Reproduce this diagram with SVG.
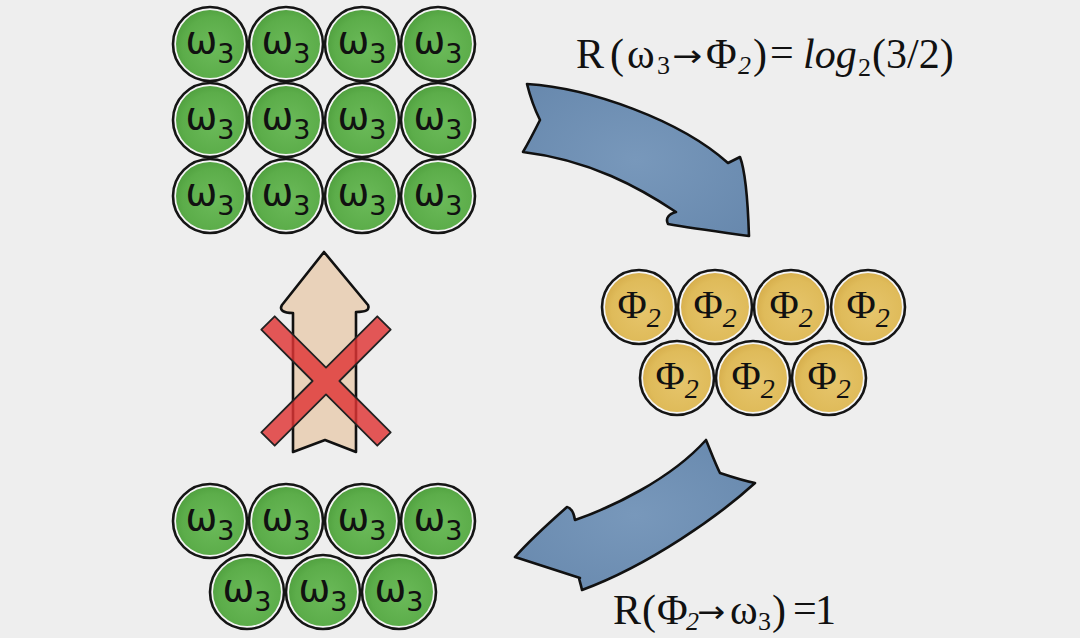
<svg xmlns="http://www.w3.org/2000/svg" width="1080" height="638" viewBox="0 0 1080 638">
<style>
.ring{fill:none;stroke:#151515;stroke-width:2.6}
.gap{fill:#f5f5f5}
.gf{fill:url(#gG)}
.yf{fill:url(#gY)}
.om{font-family:"DejaVu Sans","Liberation Sans",sans-serif;font-size:38px;fill:#111;text-anchor:middle}
.sub{font-size:27px}
.ph{font-family:"Liberation Serif","DejaVu Serif",serif;font-size:40px;fill:#111;text-anchor:middle}
.psub{font-size:28px;font-style:italic}
.f{font-family:"Liberation Serif","DejaVu Serif",serif;font-size:42px;fill:#111}
.fs{font-family:"Liberation Serif","DejaVu Serif",serif;font-size:26px;fill:#111}
.fa{font-family:"DejaVu Sans",sans-serif;font-size:30px;fill:#111}
.arr{stroke:#111;stroke-width:2.6;stroke-linejoin:round}
</style>
<defs>
<radialGradient id="gG" cx="0.55" cy="0.55" r="0.6">
<stop offset="0" stop-color="#6bba59"/><stop offset="0.75" stop-color="#5cad4a"/><stop offset="1" stop-color="#4f9f3e"/>
</radialGradient>
<radialGradient id="gY" cx="0.55" cy="0.55" r="0.6">
<stop offset="0" stop-color="#e6c56c"/><stop offset="0.75" stop-color="#dfbb5a"/><stop offset="1" stop-color="#d5ac4a"/>
</radialGradient>
<radialGradient id="gB" cx="0.5" cy="0.5" r="0.7">
<stop offset="0" stop-color="#7898bb"/><stop offset="1" stop-color="#6788ad"/>
</radialGradient>
<g id="w3"><circle r="36" class="gap"/><circle r="34" class="gf"/><circle r="37" class="ring"/><text class="om" x="0" y="9">ω<tspan class="sub" dy="10">3</tspan></text></g>
<g id="p2"><circle r="36" class="gap"/><circle r="34" class="yf"/><circle r="37" class="ring"/><text class="ph" x="0" y="11">Φ<tspan class="psub" dy="9">2</tspan></text></g>
</defs>
<rect width="1080" height="638" fill="#eeeeee"/>

<g id="connectors">
<path id="arrow-top" class="arr" fill="url(#gB)" d="M527,84 C590,88 680,120 728,163 L740,157 C745,170 748,205 749,236 C720,232 690,228 668,224 C665,218 669,214 676,212 C640,188 590,160 523,152 C530,140 536,128 540,120 C535,110 530,96 527,84 Z"/>
<path id="arrow-bottom" class="arr" fill="url(#gB)" d="M706,440 C711,452 715,463 720,473 C732,477 745,481 755,483 C720,515 650,565 582,590 C580,580 578,578 580,578 L515,557 C530,540 550,522 567,507 C572,508 574,514 575,520 C610,508 670,480 706,440 Z"/>
<g id="blocked">
<path id="arrow-up" class="arr" stroke-width="2" fill="#e9d2ba" d="M324,252 L368,305 C370,310 366,312 356,312 L356,452 L325,440 L293,452 L293,313 C283,313 279,310 282,305 Z"/>
<path id="cross" fill="#df3434" fill-opacity="0.82" stroke="#222" stroke-width="1.8" stroke-linejoin="round" d="M261.3,329.7 L274.7,316.3 L326,367.6 L377.3,316.3 L390.7,329.7 L339.4,381 L390.7,432.3 L377.3,445.7 L326,394.4 L274.7,445.7 L261.3,432.3 L312.6,381 Z"/>
</g>
</g>

<g id="top-grid">
<use id="t1" href="#w3" x="210" y="44"/><use id="t2" href="#w3" x="286" y="44"/><use id="t3" href="#w3" x="362" y="44"/><use id="t4" href="#w3" x="438" y="44"/>
<use id="t5" href="#w3" x="210" y="120"/><use id="t6" href="#w3" x="286" y="120"/><use id="t7" href="#w3" x="362" y="120"/><use id="t8" href="#w3" x="438" y="120"/>
<use id="t9" href="#w3" x="210" y="196"/><use id="t10" href="#w3" x="286" y="196"/><use id="t11" href="#w3" x="362" y="196"/><use id="t12" href="#w3" x="438" y="196"/>
</g>

<g id="phi-group">
<use id="p1" href="#p2" x="639" y="307"/><use id="p2n" href="#p2" x="715" y="307"/><use id="p3" href="#p2" x="791" y="307"/><use id="p4" href="#p2" x="868" y="307"/>
<use id="p5" href="#p2" x="677" y="378"/><use id="p6" href="#p2" x="753" y="378"/><use id="p7" href="#p2" x="829" y="378"/>
</g>

<g id="bottom-group">
<use id="b1" href="#w3" x="210" y="521"/><use id="b2" href="#w3" x="286" y="521"/><use id="b3" href="#w3" x="362" y="521"/><use id="b4" href="#w3" x="438" y="521"/>
<use id="b5" href="#w3" x="247" y="592"/><use id="b6" href="#w3" x="323" y="592"/><use id="b7" href="#w3" x="399" y="592"/>
</g>

<g id="formula-top">
<text class="f" x="576" y="68">R</text>
<text class="f" x="610" y="68">(</text>
<text class="f" x="627" y="68">ω</text>
<text class="fs" x="657" y="74">3</text>
<text class="fa" x="672" y="66" textLength="30" lengthAdjust="spacingAndGlyphs">→</text>
<text class="f" x="706" y="68">Φ</text>
<text class="fs" x="738" y="74" font-style="italic">2</text>
<text class="f" x="753" y="68">)</text>
<text class="f" x="770" y="66" font-size="30">=</text>
<text class="f" x="803" y="68" font-style="italic">log</text>
<text class="fs" x="858" y="76">2</text>
<text class="f" x="872" y="68" font-size="38">(3/2)</text>
</g>
<g id="formula-bottom">
<text class="f" x="613" y="624">R</text>
<text class="f" x="642" y="624">(</text>
<text class="f" x="657" y="624" font-size="38">Φ</text>
<text class="fs" x="686" y="630" font-style="italic" font-size="22">2</text>
<text class="fa" x="697" y="622" textLength="28" lengthAdjust="spacingAndGlyphs">→</text>
<text class="f" x="730" y="624">ω</text>
<text class="fs" x="758" y="630">3</text>
<text class="f" x="772" y="624">)</text>
<text class="f" x="793" y="622" font-size="30">=</text>
<text class="f" x="815" y="624">1</text>
</g>
</svg>
